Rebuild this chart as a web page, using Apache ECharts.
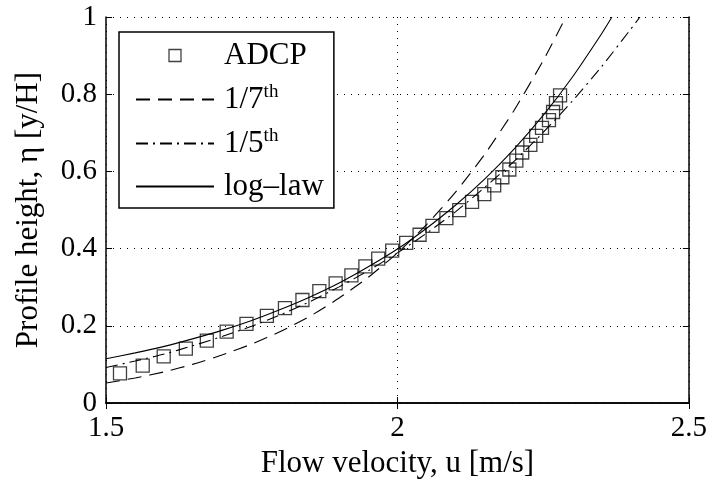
<!DOCTYPE html>
<html>
<head>
<meta charset="utf-8">
<script src="https://cdn.jsdelivr.net/npm/echarts@6/dist/echarts.min.js"></script>
<style>html,body{margin:0;padding:0;background:#fff}#c{width:710px;height:484px}</style>
</head>
<body>
<div id="c"></div>
<script>
// ADCP measurements (u [m/s], eta [y/H])
const adcpU = [1.524,1.563,1.599,1.637,1.673,1.707,1.741,1.776,1.807,1.837,1.866,1.894,1.921,1.945,1.967,1.991,2.015,2.038,2.060,2.084,2.106,2.128,2.149,2.166,2.180,2.192,2.204,2.214,2.228,2.238,2.248,2.260,2.267,2.272,2.279];
const adcpEta = [0.077,0.097,0.121,0.141,0.162,0.185,0.205,0.226,0.246,0.267,0.290,0.310,0.331,0.354,0.374,0.395,0.415,0.436,0.459,0.479,0.500,0.521,0.541,0.564,0.585,0.605,0.628,0.649,0.669,0.692,0.713,0.733,0.754,0.777,0.797];
// 1/7th power law curve
const sevU = [1.5,1.55,1.6,1.65,1.7,1.75,1.8,1.85,1.9,1.95,2.0,2.05,2.1,2.15,2.2,2.25,2.289];
const sevEta = [0.052,0.065,0.081,0.101,0.125,0.153,0.186,0.225,0.272,0.326,0.389,0.462,0.547,0.645,0.758,0.887,1.0];
// 1/5th power law curve
const fifU = [1.5,1.55,1.6,1.65,1.7,1.75,1.8,1.85,1.9,1.95,2.0,2.05,2.1,2.15,2.2,2.25,2.3,2.35,2.4,2.416];
const fifEta = [0.092,0.109,0.127,0.149,0.173,0.199,0.229,0.263,0.301,0.343,0.389,0.440,0.496,0.559,0.626,0.701,0.782,0.871,0.968,1.0];
// log-law curve
const logU = [1.5,1.55,1.6,1.65,1.7,1.75,1.8,1.85,1.9,1.95,2.0,2.05,2.1,2.15,2.2,2.25,2.3,2.35,2.368];
const logEta = [0.115,0.130,0.147,0.167,0.189,0.214,0.243,0.275,0.311,0.353,0.399,0.453,0.513,0.581,0.658,0.745,0.844,0.956,1.0];
const xTicks = [1.5, 2, 2.5];
const yTicks = [0, 0.2, 0.4, 0.6, 0.8, 1];

const zip = (a, b) => a.map((v, i) => [v, b[i]]);
const FONT = 'Liberation Serif';
const names = ['ADCP', '1/7th', '1/5th', 'log\u2013law'];

const chart = echarts.init(document.getElementById('c'));
const baseAxis = {
  axisLine: { show: true, lineStyle: { color: '#000', width: 1.5 } },
  axisTick: { show: true, inside: true, length: 6, lineStyle: { color: '#000', width: 1 } },
  splitLine: { show: false },
};
const lineItem = { color: '#000', opacity: 0 };
chart.setOption({
  animation: false,
  backgroundColor: '#fff',
  color: ['#000'],
  grid: { left: 106, right: 20, top: 17, bottom: 77, containLabel: false },
  legend: {
    orient: 'vertical',
    left: 119, top: 32,
    data: [
      { name: names[0], icon: 'path://M0,6L0.001,6M33,0L45,0L45,12L33,12ZM77.999,6L78,6',
        itemStyle: { color: 'rgba(255,255,255,0)', borderColor: '#111', borderWidth: 1.3 } },
      { name: names[1], itemStyle: lineItem },
      { name: names[2], itemStyle: lineItem },
      { name: names[3], itemStyle: lineItem }
    ],
    backgroundColor: '#fff',
    borderColor: '#000', borderWidth: 1.5, borderRadius: 0,
    padding: [8, 10, 6, 16],
    itemWidth: 78, itemHeight: 12, itemGap: 12,
    selectedMode: false,
    formatter: function (n) {
      if (n === '1/7th') return '1/7{sup|th}';
      if (n === '1/5th') return '1/5{sup|th}';
      return n;
    },
    textStyle: {
      fontFamily: FONT, fontSize: 31, color: '#000', padding: [0, 0, 0, 5], lineHeight: 31,
      rich: { sup: { fontFamily: FONT, fontSize: 19, color: '#000', padding: [0, 0, 14, 0] } }
    }
  },
  xAxis: [
    Object.assign({}, baseAxis, {
      type: 'value', min: 1.5, max: 2.5, interval: 0.5, position: 'bottom',
      name: 'Flow velocity, u [m/s]', nameLocation: 'middle', nameGap: 35,
      nameTextStyle: { fontFamily: FONT, fontSize: 31, color: '#000' },
      axisLabel: { fontFamily: FONT, fontSize: 29, color: '#000', margin: 11,
        formatter: v => (xTicks.indexOf(v) >= 0 ? String(v) : '') },
      splitLine: { show: true, lineStyle: { color: '#000', width: 1, type: [1, 6] } }
    }),
    Object.assign({}, baseAxis, {
      type: 'value', min: 1.5, max: 2.5, interval: 0.5, position: 'top',
      axisLabel: { show: false }
    })
  ],
  yAxis: [
    Object.assign({}, baseAxis, {
      type: 'value', min: 0, max: 1, interval: 0.2, position: 'left',
      name: 'Profile height, \u03b7 [y/H]', nameLocation: 'middle', nameGap: 62,
      nameTextStyle: { fontFamily: FONT, fontSize: 31, color: '#000' },
      axisLabel: { fontFamily: FONT, fontSize: 29, color: '#000', margin: 9,
        formatter: v => (yTicks.some(t => Math.abs(t - v) < 1e-9) ? String(+v.toFixed(1)) : '') },
      splitLine: { show: true, lineStyle: { color: '#000', width: 1, type: [1, 6] } }
    }),
    Object.assign({}, baseAxis, {
      type: 'value', min: 0, max: 1, interval: 0.2, position: 'right',
      axisLabel: { show: false }
    })
  ],
  series: [
    {
      name: 'ADCP', type: 'scatter', symbol: 'rect', symbolSize: 13,
      data: zip(adcpU, adcpEta),
      itemStyle: { color: 'rgba(255,255,255,0)', borderColor: '#111', borderWidth: 1.3 },
      z: 3
    },
    {
      name: '1/7th', type: 'line', showSymbol: false, symbol: 'none', smooth: 0.2,
      itemStyle: { color: '#000' },
      data: zip(sevU, sevEta), lineStyle: { color: '#000', width: 1.1, type: [14, 8] }, z: 4
    },
    {
      name: '1/5th', type: 'line', showSymbol: false, symbol: 'none', smooth: 0.2,
      itemStyle: { color: '#000' },
      data: zip(fifU, fifEta), lineStyle: { color: '#000', width: 1.1, type: [12, 5, 2, 5] }, z: 4
    },
    {
      name: 'log\u2013law', type: 'line', showSymbol: false, symbol: 'none', smooth: 0.2,
      itemStyle: { color: '#000' },
      data: zip(logU, logEta), lineStyle: { color: '#000', width: 1.1 }, z: 4
    }
  ]
});
</script>
</body>
</html>
